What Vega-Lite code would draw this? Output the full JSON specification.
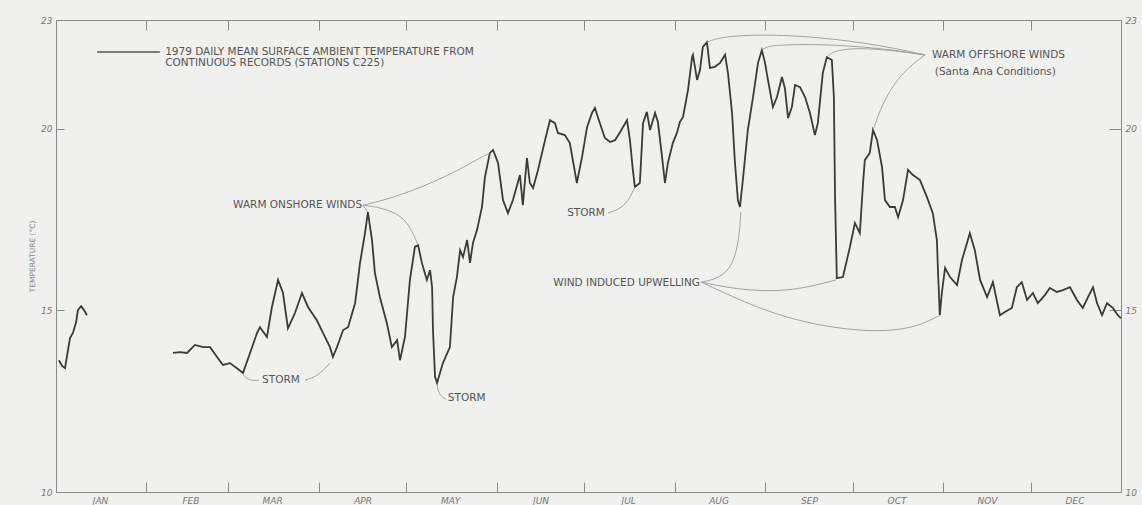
{
  "$schema": "https://vega.github.io/schema/vega-lite/v6.json",
  "width": 1065,
  "height": 472,
  "autosize": {"type": "none"},
  "padding": {"left": 56, "top": 20, "right": 21, "bottom": 13},
  "background": "#f0f0ee",
  "config": {
    "view": {"stroke": null},
    "axis": {"grid": false, "domainColor": "#8a8a8a", "tickColor": "#8a8a8a", "labelColor": "#777", "labelFont": "DejaVu Sans", "labelFontStyle": "italic", "labelFontSize": 9, "titleFont": "DejaVu Sans"},
    "text": {"font": "DejaVu Sans", "fontSize": 10.5, "color": "#555"}
  },
  "datasets": {
    "temps": [
      {"seg":"a","day":1,"temp":13.63},{"seg":"a","day":2.1,"temp":13.47},{"seg":"a","day":3.1,"temp":13.41},{"seg":"a","day":4.1,"temp":13.91},{"seg":"a","day":4.8,"temp":14.24},{"seg":"a","day":5.8,"temp":14.38},{"seg":"a","day":6.9,"temp":14.68},{"seg":"a","day":7.5,"temp":15.01},{"seg":"a","day":8.6,"temp":15.12},{"seg":"a","day":9.6,"temp":15.01},{"seg":"a","day":10.6,"temp":14.87},
      {"seg":"b","day":40.1,"temp":13.83},{"seg":"b","day":42.5,"temp":13.85},{"seg":"b","day":44.9,"temp":13.83},{"seg":"b","day":47.6,"temp":14.05},{"seg":"b","day":50.4,"temp":13.99},{"seg":"b","day":52.8,"temp":13.99},{"seg":"b","day":55.2,"temp":13.72},{"seg":"b","day":57.2,"temp":13.5},{"seg":"b","day":59.6,"temp":13.55},{"seg":"b","day":62,"temp":13.41},{"seg":"b","day":64.1,"temp":13.28},{"seg":"b","day":66.5,"temp":13.83},{"seg":"b","day":68.9,"temp":14.38},{"seg":"b","day":69.9,"temp":14.54},{"seg":"b","day":72.3,"temp":14.27},{"seg":"b","day":74,"temp":15.09},{"seg":"b","day":76.1,"temp":15.84},{"seg":"b","day":77.8,"temp":15.48},{"seg":"b","day":79.5,"temp":14.51},{"seg":"b","day":81.9,"temp":14.93},{"seg":"b","day":84.3,"temp":15.48},{"seg":"b","day":86.4,"temp":15.09},{"seg":"b","day":89.4,"temp":14.73},{"seg":"b","day":91.5,"temp":14.38},{"seg":"b","day":93.9,"temp":13.99},{"seg":"b","day":94.9,"temp":13.72},{"seg":"b","day":96.3,"temp":13.99},{"seg":"b","day":98.4,"temp":14.46},{"seg":"b","day":100.1,"temp":14.54},
      {"seg":"b","day":102.5,"temp":15.2},{"seg":"b","day":104.2,"temp":16.31},{"seg":"b","day":105.9,"temp":17.13},{"seg":"b","day":106.9,"temp":17.71},{"seg":"b","day":108.3,"temp":16.94},{"seg":"b","day":109.3,"temp":16.03},{"seg":"b","day":111,"temp":15.37},{"seg":"b","day":113.4,"temp":14.65},{"seg":"b","day":115.1,"temp":13.99},{"seg":"b","day":116.9,"temp":14.18},{"seg":"b","day":117.9,"temp":13.63},{"seg":"b","day":119.6,"temp":14.27},{"seg":"b","day":121.3,"temp":15.84},{"seg":"b","day":123,"temp":16.75},{"seg":"b","day":124.1,"temp":16.8},{"seg":"b","day":125.4,"temp":16.31},{"seg":"b","day":127.1,"temp":15.84},{"seg":"b","day":128.2,"temp":16.11},{"seg":"b","day":128.9,"temp":15.64},{"seg":"b","day":129.2,"temp":14.46},{"seg":"b","day":129.9,"temp":13.17},{"seg":"b","day":130.6,"temp":13.0},{"seg":"b","day":132.6,"temp":13.55},{"seg":"b","day":135,"temp":13.99},{"seg":"b","day":136.1,"temp":15.37},{"seg":"b","day":137.4,"temp":15.92},{"seg":"b","day":138.5,"temp":16.66},{"seg":"b","day":139.5,"temp":16.47},{"seg":"b","day":140.9,"temp":16.94},{"seg":"b","day":141.9,"temp":16.31},{"seg":"b","day":142.9,"temp":16.86},{"seg":"b","day":144.3,"temp":17.22},{"seg":"b","day":146,"temp":17.85},{"seg":"b","day":147,"temp":18.67},{"seg":"b","day":148.7,"temp":19.34},{"seg":"b","day":149.8,"temp":19.42},{"seg":"b","day":151.5,"temp":19.06},{"seg":"b","day":153.2,"temp":18.04},{"seg":"b","day":154.9,"temp":17.68},{"seg":"b","day":156.6,"temp":18.04},{"seg":"b","day":159,"temp":18.73},{"seg":"b","day":160,"temp":17.9},{"seg":"b","day":161.4,"temp":19.2},{"seg":"b","day":162.4,"temp":18.51},{"seg":"b","day":163.5,"temp":18.37},{"seg":"b","day":165.2,"temp":18.87},{"seg":"b","day":167.6,"temp":19.69},{"seg":"b","day":169.3,"temp":20.24},{"seg":"b","day":171,"temp":20.16},{"seg":"b","day":172,"temp":19.89},{"seg":"b","day":174.4,"temp":19.83},{"seg":"b","day":176.1,"temp":19.61},{"seg":"b","day":177.9,"temp":18.79},{"seg":"b","day":178.5,"temp":18.51},{"seg":"b","day":180.3,"temp":19.23},{"seg":"b","day":182,"temp":20.05},{"seg":"b","day":183.7,"temp":20.44},{"seg":"b","day":184.7,"temp":20.58},{"seg":"b","day":185.7,"temp":20.33},{"seg":"b","day":188.1,"temp":19.75},{"seg":"b","day":189.9,"temp":19.64},{"seg":"b","day":191.6,"temp":19.69},{"seg":"b","day":193.3,"temp":19.91},{"seg":"b","day":195.7,"temp":20.24},{"seg":"b","day":196.7,"temp":19.69},{"seg":"b","day":197.7,"temp":18.87},{"seg":"b","day":198.4,"temp":18.4},{"seg":"b","day":200.1,"temp":18.51},{"seg":"b","day":201.2,"temp":20.16},{"seg":"b","day":202.5,"temp":20.47},{"seg":"b","day":203.6,"temp":19.97},{"seg":"b","day":205.3,"temp":20.44},{"seg":"b","day":206.3,"temp":20.19},{"seg":"b","day":207.7,"temp":19.23},{"seg":"b","day":208.7,"temp":18.51},{"seg":"b","day":209.7,"temp":19.06},{"seg":"b","day":211.4,"temp":19.61},{"seg":"b","day":212.8,"temp":19.89},{"seg":"b","day":213.8,"temp":20.19},{"seg":"b","day":214.9,"temp":20.33},{"seg":"b","day":216.6,"temp":21.07},{"seg":"b","day":218,"temp":21.98},{"seg":"b","day":218.3,"temp":22.04},{"seg":"b","day":219.7,"temp":21.35},{"seg":"b","day":220.7,"temp":21.62},{"seg":"b","day":221.7,"temp":22.26},{"seg":"b","day":223.1,"temp":22.39},{"seg":"b","day":224.1,"temp":21.68},{"seg":"b","day":225.8,"temp":21.71},{"seg":"b","day":227.6,"temp":21.82},{"seg":"b","day":229.3,"temp":22.04},{"seg":"b","day":230.3,"temp":21.54},{"seg":"b","day":231.7,"temp":20.44},{"seg":"b","day":232.7,"temp":19.06},{"seg":"b","day":233.7,"temp":18.04},{"seg":"b","day":234.4,"temp":17.85},{"seg":"b","day":235.4,"temp":18.59},{"seg":"b","day":237.1,"temp":19.97},{"seg":"b","day":238.9,"temp":20.88},{"seg":"b","day":240.6,"temp":21.82},{"seg":"b","day":241.9,"temp":22.17},{"seg":"b","day":243,"temp":21.82},{"seg":"b","day":244,"temp":21.35},{"seg":"b","day":245.7,"temp":20.6},{"seg":"b","day":247.1,"temp":20.88},{"seg":"b","day":248.8,"temp":21.43},{"seg":"b","day":249.8,"temp":21.13},{"seg":"b","day":250.9,"temp":20.3},{"seg":"b","day":252.2,"temp":20.6},{"seg":"b","day":253.3,"temp":21.21},{"seg":"b","day":255,"temp":21.15},{"seg":"b","day":256.7,"temp":20.88},{"seg":"b","day":258.4,"temp":20.44},{"seg":"b","day":260.1,"temp":19.83},{"seg":"b","day":261.1,"temp":20.16},{"seg":"b","day":262.8,"temp":21.54},{"seg":"b","day":264.2,"temp":21.98},{"seg":"b","day":265.9,"temp":21.9},{"seg":"b","day":266.6,"temp":20.88},{"seg":"b","day":267,"temp":18.12},{"seg":"b","day":267.6,"temp":15.89},{"seg":"b","day":269.7,"temp":15.92},{"seg":"b","day":272.1,"temp":16.75},{"seg":"b","day":273.8,"temp":17.41},{"seg":"b","day":275.5,"temp":17.13},{"seg":"b","day":276.6,"temp":18.51},{"seg":"b","day":277.2,"temp":19.14},{"seg":"b","day":278.9,"temp":19.34},{"seg":"b","day":280,"temp":19.97},{"seg":"b","day":281.4,"temp":19.69},{"seg":"b","day":283.1,"temp":18.95},{"seg":"b","day":284.1,"temp":18.04},{"seg":"b","day":285.8,"temp":17.85},{"seg":"b","day":287.5,"temp":17.85},{"seg":"b","day":288.6,"temp":17.57},{"seg":"b","day":290.3,"temp":18.04},{"seg":"b","day":292,"temp":18.87},{"seg":"b","day":293.7,"temp":18.73},{"seg":"b","day":296.1,"temp":18.59},{"seg":"b","day":298.5,"temp":18.12},{"seg":"b","day":300.5,"temp":17.68},{"seg":"b","day":301.9,"temp":16.94},{"seg":"b","day":302.3,"temp":16.03},{"seg":"b","day":302.9,"temp":14.87},{"seg":"b","day":303.6,"temp":15.48},{"seg":"b","day":304.7,"temp":16.17},{"seg":"b","day":306.4,"temp":15.92},{"seg":"b","day":308.8,"temp":15.7},{"seg":"b","day":310.5,"temp":16.39},{"seg":"b","day":313.2,"temp":17.13},{"seg":"b","day":314.9,"temp":16.66},{"seg":"b","day":316.7,"temp":15.84},{"seg":"b","day":319.1,"temp":15.37},{"seg":"b","day":321.1,"temp":15.78},{"seg":"b","day":323.5,"temp":14.87},{"seg":"b","day":325.2,"temp":14.96},{"seg":"b","day":327.6,"temp":15.07},{"seg":"b","day":329.3,"temp":15.64},{"seg":"b","day":331,"temp":15.78},{"seg":"b","day":332.8,"temp":15.29},{"seg":"b","day":334.8,"temp":15.48},{"seg":"b","day":336.5,"temp":15.2},{"seg":"b","day":338.9,"temp":15.42},{"seg":"b","day":340.6,"temp":15.62},{"seg":"b","day":343,"temp":15.51},{"seg":"b","day":345.1,"temp":15.56},{"seg":"b","day":347.5,"temp":15.64},{"seg":"b","day":349.9,"temp":15.29},{"seg":"b","day":351.9,"temp":15.07},{"seg":"b","day":353.7,"temp":15.37},{"seg":"b","day":355.4,"temp":15.64},{"seg":"b","day":356.8,"temp":15.2},{"seg":"b","day":358.5,"temp":14.87},{"seg":"b","day":360.2,"temp":15.2},{"seg":"b","day":362.2,"temp":15.07},{"seg":"b","day":363.9,"temp":14.87},{"seg":"b","day":365,"temp":14.79}
    ],
    "legendline": [
      {"day": 14.1, "temp": 22.12}, {"day": 35.6, "temp": 22.12}
    ],
    "links": [
      {"id":"c1","i":0,"day":64.1,"temp":13.22},{"id":"c1","i":1,"day":66.5,"temp":13.06},{"id":"c1","i":2,"day":69.6,"temp":13.08},
      {"id":"c2","i":0,"day":85.3,"temp":13.08},{"id":"c2","i":1,"day":89.7,"temp":13.19},{"id":"c2","i":2,"day":93.9,"temp":13.55},
      {"id":"c3","i":0,"day":130.6,"temp":12.94},{"id":"c3","i":1,"day":131.3,"temp":12.67},{"id":"c3","i":2,"day":133.7,"temp":12.55},
      {"id":"c4","i":0,"day":189.2,"temp":17.68},{"id":"c4","i":1,"day":194.0,"temp":17.82},{"id":"c4","i":2,"day":196.7,"temp":18.1},{"id":"c4","i":3,"day":198.4,"temp":18.4},
      {"id":"c5","i":0,"day":105.2,"temp":17.9},{"id":"c5","i":1,"day":106.9,"temp":17.71},
      {"id":"c6","i":0,"day":105.2,"temp":17.9},{"id":"c6","i":1,"day":110.2,"temp":17.85},{"id":"c6","i":2,"day":117.1,"temp":17.68},{"id":"c6","i":3,"day":121.2,"temp":17.35},{"id":"c6","i":4,"day":124.1,"temp":16.8},
      {"id":"c7","i":0,"day":105.2,"temp":17.9},{"id":"c7","i":1,"day":112.7,"temp":18.04},{"id":"c7","i":2,"day":124.7,"temp":18.37},{"id":"c7","i":3,"day":136.7,"temp":18.81},{"id":"c7","i":4,"day":145.3,"temp":19.2},{"id":"c7","i":5,"day":148.7,"temp":19.34},
      {"id":"c8","i":0,"day":221.2,"temp":15.78},{"id":"c8","i":1,"day":227.6,"temp":15.89},{"id":"c8","i":2,"day":232.0,"temp":16.25},{"id":"c8","i":3,"day":234.1,"temp":16.94},{"id":"c8","i":4,"day":234.7,"temp":17.71},
      {"id":"c9","i":0,"day":221.2,"temp":15.78},{"id":"c9","i":1,"day":234.4,"temp":15.56},{"id":"c9","i":2,"day":251.5,"temp":15.51},{"id":"c9","i":3,"day":267.3,"temp":15.84},
      {"id":"c10","i":0,"day":221.2,"temp":15.78},{"id":"c10","i":1,"day":237.8,"temp":15.15},{"id":"c10","i":2,"day":254.9,"temp":14.68},{"id":"c10","i":3,"day":275.5,"temp":14.41},{"id":"c10","i":4,"day":292.7,"temp":14.46},{"id":"c10","i":5,"day":302.6,"temp":14.85},
      {"id":"c11","i":0,"day":223.1,"temp":22.39},{"id":"c11","i":1,"day":227.5,"temp":22.53},{"id":"c11","i":2,"day":241.3,"temp":22.61},{"id":"c11","i":3,"day":261.8,"temp":22.53},{"id":"c11","i":4,"day":282.4,"temp":22.31},{"id":"c11","i":5,"day":297.8,"temp":22.04},
      {"id":"c12","i":0,"day":241.9,"temp":22.17},{"id":"c12","i":1,"day":243.9,"temp":22.28},{"id":"c12","i":2,"day":248.1,"temp":22.31},{"id":"c12","i":3,"day":261.8,"temp":22.34},{"id":"c12","i":4,"day":282.4,"temp":22.23},{"id":"c12","i":5,"day":297.8,"temp":22.04},
      {"id":"c13","i":0,"day":264.2,"temp":21.98},{"id":"c13","i":1,"day":266.9,"temp":22.17},{"id":"c13","i":2,"day":275.5,"temp":22.23},{"id":"c13","i":3,"day":285.8,"temp":22.17},{"id":"c13","i":4,"day":297.8,"temp":22.04},
      {"id":"c14","i":0,"day":280.0,"temp":19.97},{"id":"c14","i":1,"day":280.7,"temp":20.11},{"id":"c14","i":2,"day":282.4,"temp":20.52},{"id":"c14","i":3,"day":285.8,"temp":21.07},{"id":"c14","i":4,"day":290.9,"temp":21.62},{"id":"c14","i":5,"day":297.8,"temp":22.04}
    ],
    "notesLeft": [
      {"label": "1979 DAILY MEAN SURFACE AMBIENT TEMPERATURE FROM", "day": 37.4, "temp": 22.12},
      {"label": "CONTINUOUS RECORDS (STATIONS C225)", "day": 37.4, "temp": 21.82},
      {"label": "STORM", "day": 134.3, "temp": 12.6},
      {"label": "WARM OFFSHORE WINDS", "day": 300.2, "temp": 22.04},
      {"label": "(Santa Ana Conditions)", "day": 301.2, "temp": 21.57}
    ],
    "notesRight": [
      {"label": "WARM ONSHORE WINDS", "day": 104.9, "temp": 17.9},
      {"label": "STORM", "day": 188.1, "temp": 17.68},
      {"label": "WIND INDUCED UPWELLING", "day": 220.7, "temp": 15.76}
    ],
    "notesCenter": [
      {"label": "STORM", "day": 77.1, "temp": 13.08}
    ]
  },
  "resolve": {"axis": {"x": "independent", "y": "independent"}},
  "layer": [
    {
      "data": {"name": "temps"},
      "mark": {"type": "line", "color": "#3a3a3a", "strokeWidth": 1.8},
      "encoding": {
        "x": {"field": "day", "type": "quantitative", "scale": {"domain": [0, 365], "nice": false, "zero": false},
          "axis": {"orient": "bottom", "title": null, "values": [0,31,59,90,120,151,181,212,243,273,304,334,365], "labelExpr": "['JAN','FEB','MAR','APR','MAY','JUN','JUL','AUG','SEP','OCT','NOV','DEC',''][indexof([0,31,59,90,120,151,181,212,243,273,304,334,365], datum.value)]", "labelOffset": 44, "tickSize": -10, "labelPadding": 14, "labelFlush": false, "labelOverlap": false}},
        "y": {"field": "temp", "type": "quantitative", "scale": {"domain": [10, 23], "nice": false, "zero": false},
          "axis": {"orient": "left", "title": "TEMPERATURE (°C)", "titleFontSize": 7.5, "titleColor": "#888", "titleFontWeight": "normal", "titlePadding": 4, "values": [10, 15, 20, 23], "tickSize": -8, "labelPadding": 12, "labelFlush": false}},
        "detail": {"field": "seg"}
      }
    },
    {
      "data": {"name": "links"},
      "mark": {"type": "line", "color": "#9a9a9a", "strokeWidth": 0.9, "interpolate": "basis"},
      "encoding": {
        "x": {"field": "day", "type": "quantitative", "axis": {"orient": "top", "title": null, "values": [0,31,59,90,120,151,181,212,243,273,304,334,365], "labels": false, "tickSize": -10}},
        "y": {"field": "temp", "type": "quantitative", "axis": {"orient": "right", "title": null, "values": [10, 15, 20, 23], "tickSize": -12, "labelPadding": 16, "labelFlush": false}},
        "detail": {"field": "id"},
        "order": {"field": "i"}
      }
    },
    {
      "data": {"name": "legendline"},
      "mark": {"type": "line", "color": "#555", "strokeWidth": 1.6},
      "encoding": {"x": {"field": "day", "type": "quantitative", "axis": null}, "y": {"field": "temp", "type": "quantitative", "axis": null}}
    },
    {
      "data": {"name": "notesLeft"},
      "mark": {"type": "text", "align": "left", "baseline": "middle"},
      "encoding": {"x": {"field": "day", "type": "quantitative", "axis": null}, "y": {"field": "temp", "type": "quantitative", "axis": null}, "text": {"field": "label"}}
    },
    {
      "data": {"name": "notesRight"},
      "mark": {"type": "text", "align": "right", "baseline": "middle"},
      "encoding": {"x": {"field": "day", "type": "quantitative", "axis": null}, "y": {"field": "temp", "type": "quantitative", "axis": null}, "text": {"field": "label"}}
    },
    {
      "data": {"name": "notesCenter"},
      "mark": {"type": "text", "align": "center", "baseline": "middle"},
      "encoding": {"x": {"field": "day", "type": "quantitative", "axis": null}, "y": {"field": "temp", "type": "quantitative", "axis": null}, "text": {"field": "label"}}
    }
  ]
}
